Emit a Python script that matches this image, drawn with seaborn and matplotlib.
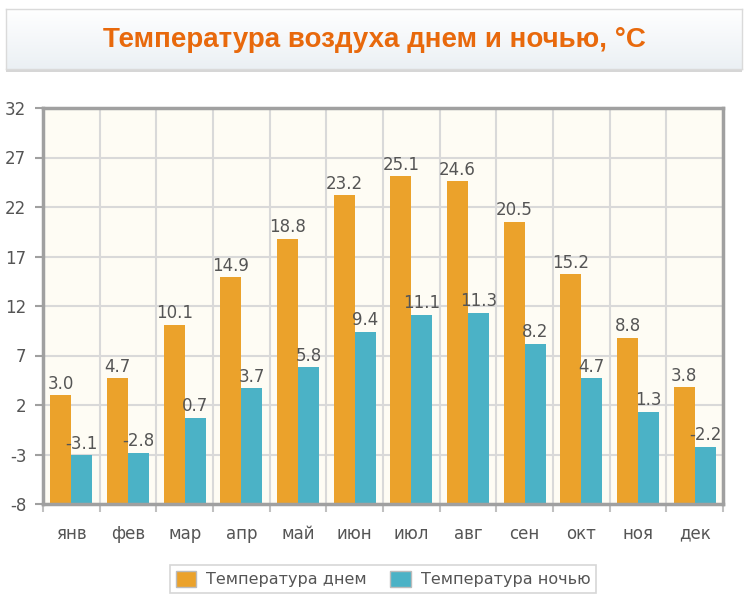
import numpy as np
import pandas as pd
import matplotlib
matplotlib.use("Agg")
import matplotlib.pyplot as plt
import seaborn as sns
from matplotlib.patches import Patch
from matplotlib.colors import LinearSegmentedColormap

months = ["янв", "фев", "мар", "апр", "май", "июн", "июл", "авг", "сен", "окт", "ноя", "дек"]
day_temp = [3.0, 4.7, 10.1, 14.9, 18.8, 23.2, 25.1, 24.6, 20.5, 15.2, 8.8, 3.8]
night_temp = [-3.1, -2.8, 0.7, 3.7, 5.8, 9.4, 11.1, 11.3, 8.2, 4.7, 1.3, -2.2]
series_names = ["Температура днем", "Температура ночью"]
title = "Температура воздуха днем и ночью, °C"
y_ticks = [-8, -3, 2, 7, 12, 17, 22, 27, 32]

colors = ["#EBA22B", "#4BB2C6"]
base = -8

df = pd.DataFrame({
    "month": months * 2,
    "value": day_temp + night_temp,
    "series": [series_names[0]] * 12 + [series_names[1]] * 12,
})

sns.set_theme(style="white")
plt.rcParams['font.family'] = ['DejaVu Sans']

fig = plt.figure(figsize=(7.49, 6.02), dpi=100)

# title box with a soft vertical gradient and shadow
shadow = fig.add_axes([6/749, 1-72/602, (742-6)/749, (72-12)/602], zorder=0)
shadow.set_facecolor("#D6D6D6")
shadow.set_xticks([]); shadow.set_yticks([])
for s in shadow.spines.values():
    s.set_visible(False)
tax = fig.add_axes([6/749, 1-69/602, (742-6)/749, (69-9)/602], zorder=1)
cmap = LinearSegmentedColormap.from_list("tb", ["#FFFFFF", "#EBF0F4"])
tax.imshow(np.linspace(0, 1, 100).reshape(-1, 1), aspect="auto", cmap=cmap,
           extent=[0, 1, 0, 1], origin="upper")
tax.set_xticks([]); tax.set_yticks([])
for s in tax.spines.values():
    s.set_color("#DADADA")
    s.set_linewidth(1)
tax.text(0.5, 0.48, title, ha="center", va="center", transform=tax.transAxes,
         fontsize=20, fontweight="bold", color="#E8690C",
         family=["Liberation Sans", "DejaVu Sans"])

ax = fig.add_axes([43/749, 1-504/602, (723-43)/749, (504-108)/602])
ax.set_facecolor("#FEFCF4")

sns.barplot(data=df, x="month", y="value", hue="series", palette=colors,
            order=months, hue_order=series_names, width=0.74, gap=0,
            ax=ax, legend=False, saturation=1, linewidth=0)

# bars grow from the bottom of the axis
for cont in ax.containers:
    for bar, val in zip(cont.patches, cont.datavalues):
        bar.set_y(base)
        bar.set_height(val - base)
        bar.set_zorder(3)
        ax.text(bar.get_x() + bar.get_width()/2, val + 0.25, f"{val:.1f}",
                ha="center", va="bottom", fontsize=12, color="#555555", zorder=5)

ax.set_ylim(-8, 32)
ax.set_xlim(-0.5, 11.5)
ax.set_yticks(y_ticks)
ax.set_yticklabels([str(t) for t in y_ticks])
ax.set_xlabel("")
ax.set_ylabel("")

# grid
for t in y_ticks:
    ax.axhline(t, color="#D9D9D9", lw=1.5, zorder=1)
for b in np.arange(-0.5, 12, 1):
    ax.axvline(b, color="#D9D9D9", lw=1.5, zorder=1)

for s in ["left", "bottom", "top", "right"]:
    ax.spines[s].set_visible(True)
    ax.spines[s].set_color("#A0A0A0")
    ax.spines[s].set_linewidth(2.5)
    ax.spines[s].set_zorder(6)

ax.tick_params(axis="y", left=True, length=6, width=1.5, color="#A0A0A0",
               labelsize=12, labelcolor="#555555", pad=6)
ax.set_xticks(range(12))
ax.set_xticklabels(months)
ax.tick_params(axis="x", bottom=False, labelsize=12, labelcolor="#555555", pad=9)
ax.set_xticks(np.arange(-0.5, 12, 1), minor=True)
ax.tick_params(axis="x", which="minor", bottom=True, length=6, width=1.5, color="#C0C0C0")

handles = [Patch(facecolor=c, edgecolor="#BBBBBB", linewidth=1) for c in colors]
leg = fig.legend(handles, series_names, loc="center", bbox_to_anchor=(383/749, 1-579/602),
                 ncol=2, frameon=True, fancybox=False, fontsize=11.5,
                 handlelength=1.3, handleheight=1.15, columnspacing=1.5,
                 handletextpad=0.6, borderpad=0.35)
leg.get_frame().set_edgecolor("#CCCCCC")
leg.get_frame().set_linewidth(1.2)
for t in leg.get_texts():
    t.set_color("#555555")

fig.savefig("out.png", dpi=100, facecolor="white")
